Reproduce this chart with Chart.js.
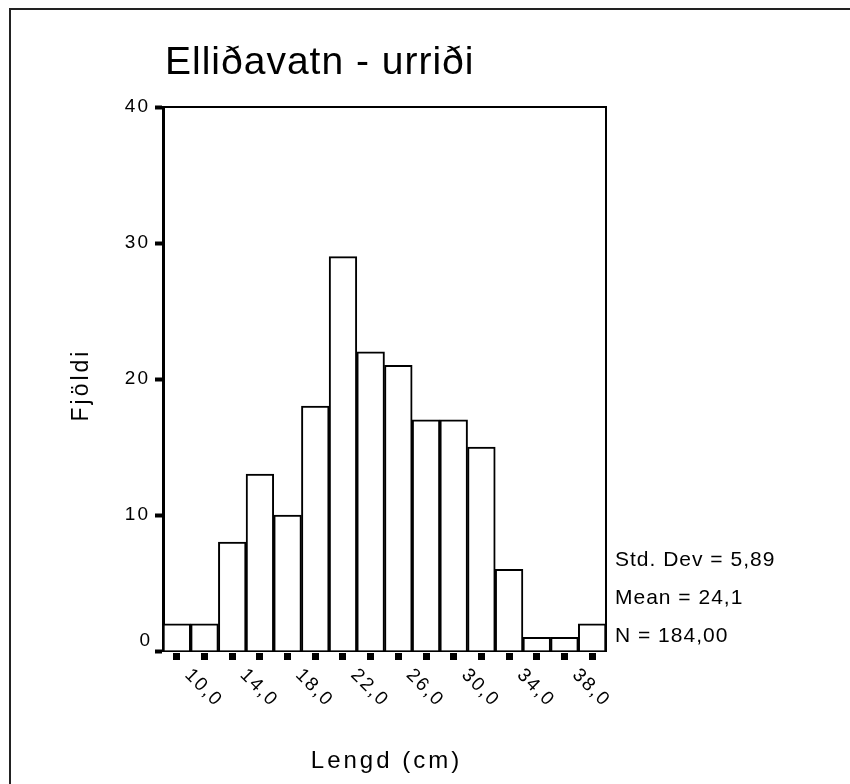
<!DOCTYPE html>
<html>
<head>
<meta charset="utf-8">
<script src="https://cdn.jsdelivr.net/npm/chart.js@4/dist/chart.umd.min.js"></script>
<style>
html,body{margin:0;padding:0;background:#fff;}
#wrap{width:850px;height:784px;position:relative;}
</style>
</head>
<body>
<div id="wrap"><canvas id="c"></canvas></div>
<script>
const chartTitle = 'Elliðavatn - urriði';
const xAxisTitle = 'Lengd (cm)';
const yAxisTitle = 'Fjöldi';
const binLabels = ['8,0','10,0','12,0','14,0','16,0','18,0','20,0','22,0','24,0','26,0','28,0','30,0','32,0','34,0','36,0','38,0'];
const counts = [2, 2, 8, 13, 10, 18, 29, 22, 21, 17, 17, 15, 6, 1, 1, 2];
const yTicks = [0, 10, 20, 30, 40];
const statsLines = ['Std. Dev = 5,89', 'Mean = 24,1', 'N = 184,00'];

const FONT = '"Liberation Sans", Arial, Helvetica, sans-serif';

const decor = {
  id: 'decor',
  beforeDraw(chart) {
    const ctx = chart.ctx;
    ctx.save();
    ctx.fillStyle = '#fff';
    ctx.fillRect(0, 0, chart.width, chart.height);
    ctx.restore();
    ctx.letterSpacing = '2px';
  },
  beforeDatasetsDraw(chart) {
    chart.ctx.letterSpacing = '0px';
  },
  afterDraw(chart) {
    const ctx = chart.ctx;
    const a = chart.chartArea;
    const xs = chart.scales.x;
    const ys = chart.scales.y;
    ctx.save();
    // outer frame (top and left)
    ctx.strokeStyle = '#222';
    ctx.lineWidth = 2;
    ctx.beginPath();
    ctx.moveTo(10, chart.height);
    ctx.lineTo(10, 9);
    ctx.lineTo(chart.width, 9);
    ctx.stroke();
    // plot frame top and right
    ctx.strokeStyle = '#000';
    ctx.lineWidth = 2;
    ctx.beginPath();
    ctx.moveTo(a.left, a.top);
    ctx.lineTo(a.right, a.top);
    ctx.lineTo(a.right, a.bottom);
    ctx.stroke();
    // x tick squares
    ctx.fillStyle = '#000';
    for (let i = 0; i < binLabels.length; i++) {
      const px = xs.getPixelForTick(i);
      ctx.fillRect(Math.round(px - 3.5), a.bottom + 2, 7, 7);
    }
    // zero label on y axis, raised above its tick (as in the original)
    ctx.font = '19px ' + FONT;
    ctx.letterSpacing = '2px';
    ctx.textAlign = 'right';
    ctx.textBaseline = 'middle';
    ctx.fillText(String(yTicks[0]), a.left - 11, ys.getPixelForValue(yTicks[0]) - 10);
    // x tick labels rotated
    ctx.textAlign = 'center';
    for (let i = 1; i < binLabels.length; i += 2) {
      const px = xs.getPixelForTick(i);
      ctx.save();
      ctx.translate(px - 1, a.bottom + 37);
      ctx.rotate(Math.PI / 4);
      ctx.fillText(binLabels[i], 0, 0);
      ctx.restore();
    }
    // title
    ctx.letterSpacing = '1px';
    ctx.textAlign = 'left';
    ctx.textBaseline = 'alphabetic';
    ctx.font = '39px ' + FONT;
    ctx.fillText(chartTitle, 165, 74);
    // x axis title
    ctx.font = '24px ' + FONT;
    ctx.letterSpacing = '3px';
    ctx.textAlign = 'center';
    ctx.fillText(xAxisTitle, (a.left + a.right) / 2 + 2, 768);
    // y axis title
    ctx.save();
    ctx.translate(88, (a.top + a.bottom) / 2 + 6);
    ctx.rotate(-Math.PI / 2);
    ctx.font = '23px ' + FONT;
    ctx.letterSpacing = '3px';
    ctx.fillText(yAxisTitle, 0, 0);
    ctx.restore();
    // stats
    ctx.font = '21px ' + FONT;
    ctx.letterSpacing = '1px';
    ctx.textAlign = 'left';
    const baselines = [566, 604, 642];
    statsLines.forEach((s, i) => ctx.fillText(s, a.right + 9, baselines[i]));
    ctx.restore();
  }
};

new Chart(document.getElementById('c'), {
  type: 'bar',
  data: {
    labels: binLabels,
    datasets: [{
      data: counts,
      backgroundColor: '#fff',
      borderColor: '#000',
      borderWidth: 2,
      borderSkipped: 'start',
      barPercentage: 1,
      categoryPercentage: 1
    }]
  },
  options: {
    responsive: true,
    maintainAspectRatio: false,
    animation: false,
    devicePixelRatio: 1,
    layout: { padding: { left: 0, top: 107, right: 244, bottom: 0 } },
    plugins: { legend: { display: false }, tooltip: { enabled: false }, title: { display: false } },
    scales: {
      x: {
        type: 'category',
        offset: true,
        grid: { display: false, drawTicks: false },
        border: { display: true, color: '#000', width: 2 },
        ticks: { display: false },
        afterFit(scale) { scale.height = 784 - 651; }
      },
      y: {
        min: 0,
        max: 40,
        afterBuildTicks(scale) { scale.ticks = yTicks.map(v => ({ value: v })); },
        grid: { drawOnChartArea: false, drawTicks: true, tickLength: 8, tickWidth: 4, tickColor: '#000' },
        border: { display: true, color: '#000', width: 3 },
        ticks: {
          color: '#000', padding: 5, font: { family: FONT, size: 19 },
          callback: (v) => (v === yTicks[0] ? '' : String(v))
        },
        afterFit(scale) { scale.width = 163; }
      }
    }
  },
  plugins: [decor]
});
</script>
</body>
</html>
